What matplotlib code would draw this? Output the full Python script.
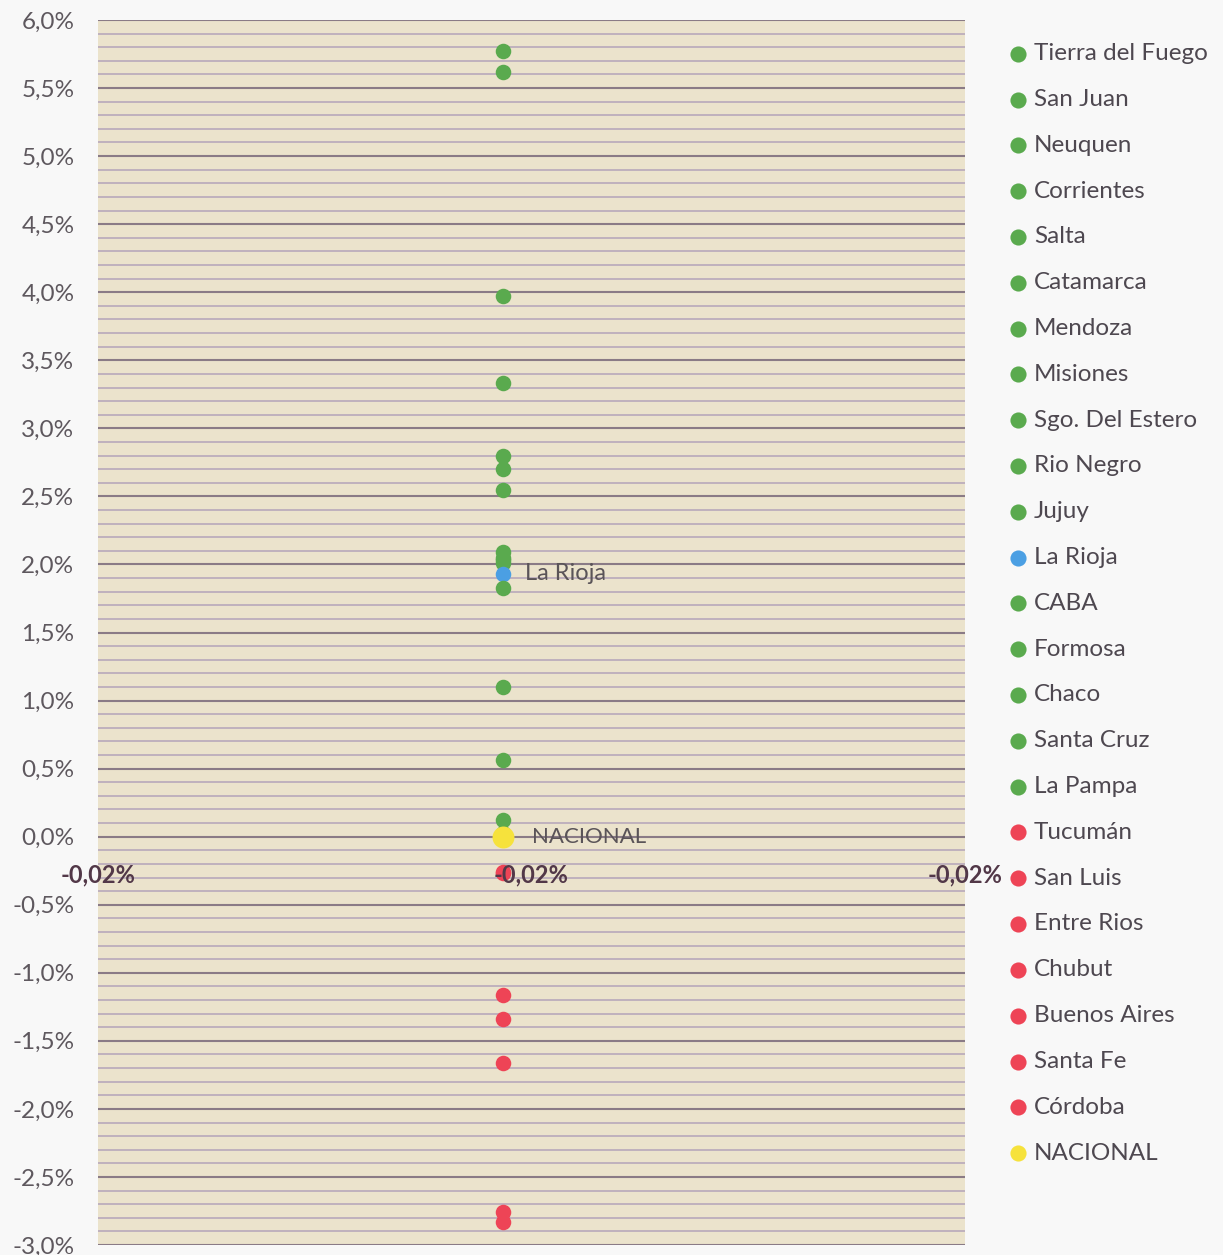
import matplotlib
matplotlib.use("Agg")
import matplotlib.pyplot as plt
from matplotlib.ticker import MultipleLocator, FuncFormatter, FixedLocator

plt.rcParams['font.family'] = ['Lato', 'DejaVu Sans']

# provincias, en el orden de la leyenda (variación en %)
provincias = ["Tierra del Fuego", "San Juan", "Neuquen", "Corrientes", "Salta",
              "Catamarca", "Mendoza", "Misiones", "Sgo. Del Estero", "Rio Negro",
              "Jujuy", "La Rioja", "CABA", "Formosa", "Chaco", "Santa Cruz",
              "La Pampa", "Tucumán", "San Luis", "Entre Rios", "Chubut",
              "Buenos Aires", "Santa Fe", "Córdoba", "NACIONAL"]
variacion = [5.77, 5.62, 3.97, 3.33, 2.80,
             2.70, 2.55, 2.09, 2.05, 2.03,
             2.01, 1.93, 1.83, 1.10, 0.56, 0.12,
             0.03, -0.26, -0.27, -1.16, -1.34,
             -1.66, -2.76, -2.83, 0.0]
grupo = ["sube"] * 11 + ["rioja"] + ["sube"] * 5 + ["baja"] * 7 + ["nacional"]
eje_x = -0.0203  # todas las provincias en la misma posicion horizontal (en %)
etiquetas = {"La Rioja": "La Rioja", "NACIONAL": "NACIONAL"}

colores = {"sube": "#5aaa4e", "rioja": "#4b9fe3", "baja": "#ee4456", "nacional": "#f6e23c"}
tamanos = {"sube": 125, "rioja": 125, "baja": 125, "nacional": 250}

fig = plt.figure(figsize=(12.23, 12.55), dpi=100)
fig.patch.set_facecolor("#f8f8f8")
ax = fig.add_axes([98 / 1223, 1 - 1245 / 1255, (965 - 98) / 1223, (1245 - 20) / 1255])
ax.set_facecolor("#ebe3cc")

for nombre, val, g in zip(provincias, variacion, grupo):
    ax.scatter(eje_x, val, s=tamanos[g], color=colores[g], label=nombre,
               zorder=3, linewidths=0)

for nombre, val in zip(provincias, variacion):
    if nombre in etiquetas:
        dx = 16 if nombre == "La Rioja" else 21
        ax.annotate(etiquetas[nombre], (eje_x, val), xytext=(dx, 0),
                    textcoords="offset points", va="center", ha="left",
                    fontsize=17 if nombre == "La Rioja" else 16,
                    color="#5a5458", zorder=4)

ax.set_ylim(-3.0, 6.0)
ax.set_xlim(-0.0245, -0.0155)
ax.yaxis.set_major_locator(MultipleLocator(0.5))
ax.yaxis.set_minor_locator(MultipleLocator(0.1))
ax.yaxis.set_major_formatter(FuncFormatter(lambda v, p: f"{v:.1f}%".replace(".", ",")))
ax.xaxis.set_major_locator(FixedLocator([-0.0245, -0.02, -0.0155]))
ax.xaxis.set_major_formatter(FuncFormatter(lambda v, p: f"{v:.2f}%".replace(".", ",")))

ax.grid(which="minor", axis="y", color="#b8a9bb", linewidth=1.2)
ax.grid(which="major", axis="y", color="#8a7b86", linewidth=1.5)
ax.yaxis.set_zorder(0.5)
ax.xaxis.set_zorder(5)

ax.spines['bottom'].set_position(('data', 0))
for s in ax.spines.values():
    s.set_visible(False)
ax.tick_params(axis="y", which="both", length=0, pad=17, labelsize=17.5, labelcolor="#5e585e")
ax.tick_params(axis="x", length=0, pad=19, labelsize=17, labelcolor="#523848")
for t in ax.get_xticklabels():
    t.set_fontweight("bold")
ax.tick_params(axis="y", which="minor", labelleft=False)

leg = ax.legend(loc="upper left", bbox_to_anchor=(994 / 1223, 1 - 31 / 1255),
                bbox_transform=fig.transFigure, frameon=False, fontsize=17.5,
                handletextpad=0.15, handlelength=1.0, labelspacing=1.02,
                borderpad=0, labelcolor="#4e4850")
for h in leg.legend_handles:
    h.set_sizes([135])

fig.savefig("out.png", dpi=100, facecolor=fig.get_facecolor())
